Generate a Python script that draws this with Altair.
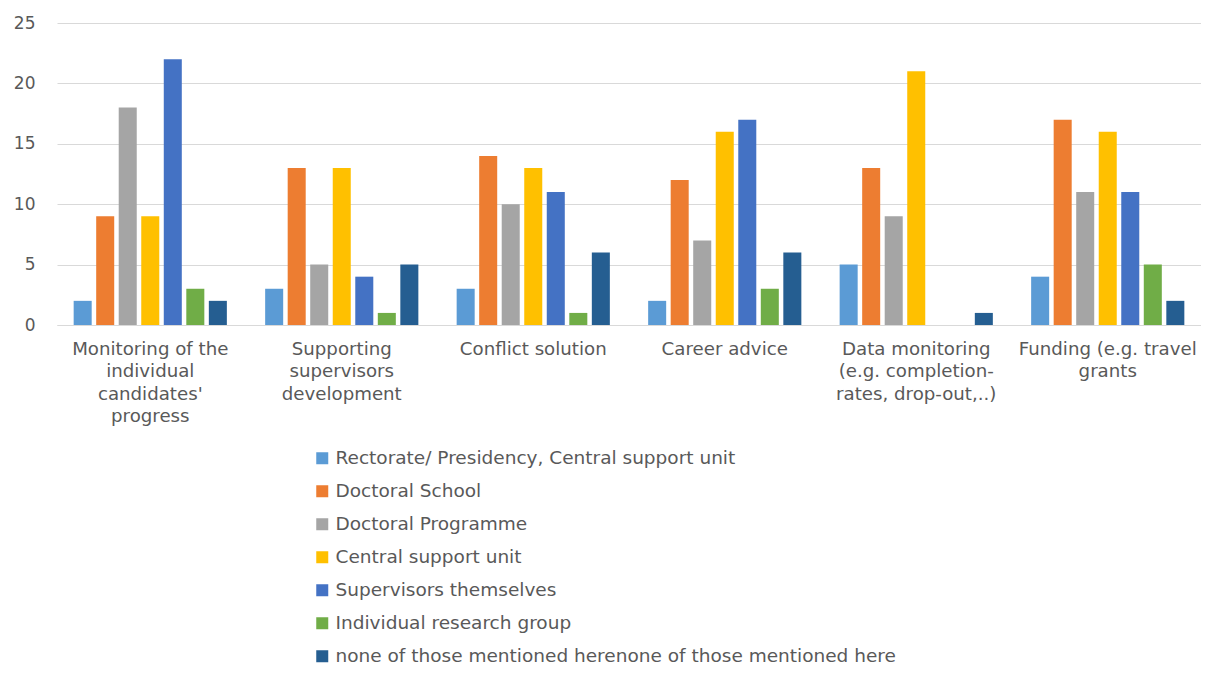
import altair as alt
import pandas as pd

categories = [
    "Monitoring of the|individual|candidates'|progress",
    "Supporting|supervisors|development",
    "Conflict solution",
    "Career advice",
    "Data monitoring|(e.g. completion-|rates, drop-out,..)",
    "Funding (e.g. travel|grants",
]
series = [
    "Rectorate/ Presidency, Central support unit",
    "Doctoral School",
    "Doctoral Programme",
    "Central support unit",
    "Supervisors themselves",
    "Individual research group",
    "none of those mentioned herenone of those mentioned here",
]
colors = ["#5B9BD5", "#ED7D31", "#A5A5A5", "#FFC000", "#4472C4", "#70AD47", "#255E91"]

rectorate = [2, 3, 3, 2, 5, 4]
doctoral_school = [9, 13, 14, 12, 13, 17]
doctoral_programme = [18, 5, 10, 7, 9, 11]
central_support = [9, 13, 13, 16, 21, 16]
supervisors = [22, 4, 11, 17, 0, 11]
research_group = [3, 1, 1, 3, 0, 5]
none_mentioned = [2, 5, 6, 6, 1, 2]

values = [rectorate, doctoral_school, doctoral_programme, central_support,
          supervisors, research_group, none_mentioned]

rows = []
for s, vals in zip(series, values):
    for c, v in zip(categories, vals):
        rows.append({"category": c, "series": s, "value": v})
df = pd.DataFrame(rows)

FONT = "DejaVu Sans"
TXT = "#595959"
W, H = 1144, 302

chart = alt.Chart(df).mark_bar().encode(
    x=alt.X("category:N", sort=categories,
            scale=alt.Scale(paddingInner=0.2, paddingOuter=0.087),
            axis=alt.Axis(title=None, labelAngle=0, ticks=False, domainColor="#D9D9D9",
                          labelExpr="split(datum.label, '|')", labelFontSize=18.2,
                          labelLineHeight=22.5, labelPadding=15, labelColor=TXT,
                          labelFont=FONT, labelLimit=300)),
    xOffset=alt.XOffset("series:N", sort=series,
                        scale=alt.Scale(paddingInner=0.2, paddingOuter=0)),
    y=alt.Y("value:Q", scale=alt.Scale(domain=[0, 25]),
            axis=alt.Axis(title=None, values=[0, 5, 10, 15, 20, 25], ticks=False,
                          domain=False, gridColor="#D9D9D9", labelFontSize=17,
                          labelColor=TXT, labelFont=FONT, labelPadding=22)),
    color=alt.Color("series:N", sort=series,
                    scale=alt.Scale(domain=series, range=colors),
                    legend=alt.Legend(title=None, orient="none", legendX=256, legendY=426,
                                      direction="vertical", symbolType="square",
                                      symbolSize=144, symbolStrokeWidth=0,
                                      labelFontSize=18.5, labelColor=TXT, labelFont=FONT,
                                      labelLimit=800, rowPadding=14, symbolOffset=0,
                                      labelOffset=4)),
).properties(
    width=W, height=H,
    autosize=alt.AutoSizeParams(type="none"),
    padding={"left": 49, "top": 15, "right": 0, "bottom": 341},
).configure(font=FONT).configure_view(strokeWidth=0, stroke="transparent")

chart.save("out.html", embed_options={"renderer": "svg", "actions": False})
